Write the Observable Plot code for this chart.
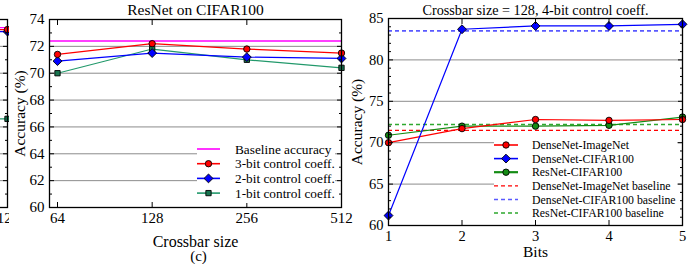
<!DOCTYPE html>
<html><head><meta charset="utf-8">
<script src="https://cdn.jsdelivr.net/npm/d3@7"></script>
<script src="https://cdn.jsdelivr.net/npm/@observablehq/plot@0.6"></script>
<style>
html,body{margin:0;padding:0;background:#fff;}
#wrap{position:relative;width:696px;height:264px;overflow:hidden;background:#fff;font-family:"Liberation Serif","Times New Roman",serif;}
#wrap svg, #wrap svg text, #wrap svg g {font-family:"Liberation Serif","Times New Roman",serif !important;}
.abs{position:absolute;top:0;}
</style></head><body><div id="wrap"></div>
<script>
// ---------- Panel (c): ResNet on CIFAR100 ----------
const crossbarSizes = [64, 128, 256, 512];
const baselineAcc = 72.4;
const acc3bit = [71.4, 72.2, 71.8, 71.5];
const acc2bit = [70.9, 71.5, 71.2, 71.1];
const acc1bit = [70.0, 71.8, 71.0, 70.4];
const yTicksC = [60, 62, 64, 66, 68, 70, 72, 74];
const yMinorC = [61, 63, 65, 67, 69, 71, 73];
const legendC = ["Baseline accuracy", "3-bit control coeff.", "2-bit control coeff.", "1-bit control coeff."];

// ---------- Panel (d): Crossbar size = 128, 4-bit control coeff. ----------
const bits = [1, 2, 3, 4, 5];
const denseImageNet = [70.0, 71.7, 72.8, 72.7, 72.8];
const denseCifar = [61.2, 83.7, 84.1, 84.1, 84.3];
const resnetCifar = [70.9, 72.0, 72.0, 72.1, 73.1];
const baseDenseImageNet = 71.5;
const baseDenseCifar = 83.5;
const baseResnetCifar = 72.2;
const yTicksD = [60, 65, 70, 75, 80, 85];
const yMinorD = [61,62,63,64,66,67,68,69,71,72,73,74,76,77,78,79,81,82,83,84];
const legendD = ["DenseNet-ImageNet", "DenseNet-CIFAR100", "ResNet-CIFAR100",
  "DenseNet-ImageNet baseline", "DenseNet-CIFAR100 baseline", "ResNet-CIFAR100 baseline"];

// ---------- Right edge of previous panel (b), cropped ----------
const prevSizes = [256, 512];
const prevBaseline = 73.4;
const prev3bit = [73.2, 73.25];
const prev2bit = [73.0, 73.1];
const prev1bit = [66.6, 66.6];

const FONT = "Liberation Serif, Times New Roman, serif";
const RED = "#ff0000", BLUE = "#0000ff", TEAL = "#22996b", TEALM = "#17744f", MAG = "#ff00ff";
const GREEN = "#148c14", GREEND = "#2ea82e", BLUED = "#5a5aff";
const GRID = "#8c8c8c";

const pts = (xs, ys) => xs.map((x, i) => ({x, y: ys[i]}));

function boxTicks(xTicks, yTicks, yMinor, xTop) {
  return [
    Plot.axisY(yTicks, {anchor: "left", tickSize: -5, text: null, label: null}),
    Plot.axisY(yTicks, {anchor: "right", tickSize: -5, text: null, label: null}),
    Plot.axisY(yMinor, {anchor: "left", tickSize: -3, text: null, label: null}),
    Plot.axisY(yMinor, {anchor: "right", tickSize: -3, text: null, label: null}),
    Plot.axisX(xTicks, {anchor: "bottom", tickSize: -5, text: null, label: null}),
    Plot.axisX(xTop || xTicks, {anchor: "top", tickSize: -5, text: null, label: null})
  ];
}

function seriesMarks(data, stroke, symbol, fill, r) {
  return [
    Plot.line(data, {x: "x", y: "y", stroke, strokeWidth: 1.2}),
    Plot.dot(data, {x: "x", y: "y", symbol, r, fill, stroke: "black", strokeWidth: 0.9})
  ];
}

function panelC(prev = false) {
  const s3 = prev ? pts(prevSizes, prev3bit) : pts(crossbarSizes, acc3bit);
  const s2 = prev ? pts(prevSizes, prev2bit) : pts(crossbarSizes, acc2bit);
  const s1 = prev ? pts(prevSizes, prev1bit) : pts(crossbarSizes, acc1bit);
  const base = prev ? prevBaseline : baselineAcc;
  const texts = prev ? [
    Plot.axisX(crossbarSizes.slice(-1), {anchor: "bottom", tickSize: 0, tickPadding: 5, label: null, tickFormat: d => String(d), dx: -7})
  ] : [
    Plot.axisY(yTicksC, {anchor: "left", tickSize: 0, tickPadding: 5, label: null}),
    Plot.axisX(crossbarSizes, {anchor: "bottom", tickSize: 0, tickPadding: 5, label: null, tickFormat: d => String(d)}),
    Plot.text(["ResNet on CIFAR100"], {text: d => d, frameAnchor: "top", lineAnchor: "middle", textAnchor: "middle", dy: -9, fontSize: 15.5}),
    Plot.text(["Accuracy (%)"], {text: d => d, frameAnchor: "left", lineAnchor: "middle", textAnchor: "middle", rotate: -90, dx: -29, fontSize: 15.5}),
    Plot.text(["Crossbar size"], {text: d => d, frameAnchor: "bottom", lineAnchor: "middle", textAnchor: "middle", dy: 34, fontSize: 16}),
    Plot.text(["(c)"], {text: d => d, frameAnchor: "bottom", lineAnchor: "middle", textAnchor: "middle", dy: 49, dx: 3, fontSize: 15})
  ];
  return Plot.plot({
    width: 348, height: 264,
    marginLeft: 49, marginRight: 7, marginTop: 19, marginBottom: 57,
    style: {fontFamily: FONT, fontSize: "15px", background: "transparent", overflow: "visible", color: "black"},
    x: {type: "log", base: 2, domain: [64, 512], range: [57, 341]},
    y: {domain: [60, 74]},
    marks: [
      Plot.ruleY(yTicksC.slice(1, -1), {stroke: GRID, strokeWidth: 1}),
      Plot.ruleY([base], {stroke: MAG, strokeWidth: 1.3}),
      ...seriesMarks(s1, TEAL, "square", TEALM, 3),
      ...seriesMarks(s2, BLUE, "diamond2", BLUE, 4),
      ...seriesMarks(s3, RED, "circle", RED, 3.2),
      ...boxTicks(crossbarSizes, yTicksC, yMinorC),
      Plot.frame({stroke: "black", strokeWidth: 1.3}),
      ...texts
    ]
  });
}

function panelD() {
  return Plot.plot({
    width: 348, height: 264,
    marginLeft: 40, marginRight: 14, marginTop: 18, marginBottom: 39,
    style: {fontFamily: FONT, fontSize: "14.5px", background: "transparent", overflow: "visible", color: "black"},
    x: {domain: [1, 5]},
    y: {domain: [60, 85]},
    marks: [
      Plot.ruleY(yTicksD.slice(1, -1), {stroke: GRID, strokeWidth: 1}),
      Plot.ruleY([baseDenseImageNet], {stroke: RED, strokeWidth: 1.3, strokeDasharray: "4,3"}),
      Plot.ruleY([baseDenseCifar], {stroke: BLUED, strokeWidth: 1.6, strokeDasharray: "4,3"}),
      Plot.ruleY([baseResnetCifar], {stroke: GREEND, strokeWidth: 1.6, strokeDasharray: "4,3"}),
      ...seriesMarks(pts(bits, resnetCifar), GREEN, "circle", GREEN, 3.2),
      ...seriesMarks(pts(bits, denseImageNet), RED, "circle", RED, 3.2),
      ...seriesMarks(pts(bits, denseCifar), BLUE, "diamond2", BLUE, 4),
      ...boxTicks(bits, yTicksD, yMinorD, bits.slice(1, -1)),
      Plot.axisY(yTicksD, {anchor: "left", tickSize: 0, tickPadding: 5, label: null}),
      Plot.axisX(bits, {anchor: "bottom", tickSize: 0, tickPadding: 5, label: null, tickFormat: d => String(d)}),
      Plot.frame({stroke: "black", strokeWidth: 1.3}),
      Plot.text(["Crossbar size = 128, 4-bit control coeff."], {text: d => d, frameAnchor: "top", lineAnchor: "middle", textAnchor: "middle", dy: -8, fontSize: 14.2}),
      Plot.text(["Accuracy (%)"], {text: d => d, frameAnchor: "left", lineAnchor: "middle", textAnchor: "middle", rotate: -90, dx: -31, fontSize: 15.5}),
      Plot.text(["Bits"], {text: d => d, frameAnchor: "bottom", lineAnchor: "middle", textAnchor: "middle", dy: 27, fontSize: 15.5})
    ]
  });
}

// Legend drawn into an existing Plot svg (layout only, no data coordinates)
function addLegend(svg, items, L) {
  const g = d3.select(svg).append("g").attr("font-family", FONT).attr("font-size", L.fontSize).attr("text-anchor", "start");
  g.append("rect").attr("x", L.x0).attr("y", L.y0).attr("width", L.x1 - L.x0).attr("height", L.y1 - L.y0).attr("fill", "white");
  items.forEach((it, i) => {
    const y = L.rowY + i * L.rowH;
    g.append("line").attr("x1", L.sx0).attr("x2", L.sx1).attr("y1", y).attr("y2", y)
      .attr("stroke", it.stroke).attr("stroke-width", it.width || 1.6).attr("stroke-dasharray", it.dash || null);
    if (it.symbol) {
      g.append("path").attr("d", d3.symbol(it.symbol, it.size)())
        .attr("transform", `translate(${(L.sx0 + L.sx1) / 2},${y})`)
        .attr("fill", it.fill).attr("stroke", "black").attr("stroke-width", 0.9);
    }
    g.append("text").attr("x", L.tx).attr("y", y).attr("dy", "0.35em").attr("fill", "black")
      .attr("text-anchor", "start").text(it.label);
  });
}

const wrap = document.getElementById("wrap");

// cropped previous panel at far left
const prevBox = document.createElement("div");
prevBox.style.cssText = "position:absolute;left:0;top:0;width:9px;height:264px;overflow:hidden;";
const pb = panelC(true);
pb.style.position = "absolute"; pb.style.left = "-334px"; pb.style.top = "0px"; pb.style.maxWidth = "none";
prevBox.appendChild(pb);
wrap.appendChild(prevBox);

const pc = panelC();
pc.classList.add("abs"); pc.style.left = "0px"; pc.style.maxWidth = "none";
addLegend(pc, [
  {label: legendC[0], stroke: MAG},
  {label: legendC[1], stroke: RED, symbol: d3.symbolCircle, size: 32, fill: RED},
  {label: legendC[2], stroke: BLUE, symbol: d3.symbolDiamond2, size: 50, fill: BLUE},
  {label: legendC[3], stroke: TEAL, symbol: d3.symbolSquare, size: 28, fill: TEALM}
], {x0: 197, x1: 335, y0: 139, y1: 203, sx0: 197, sx1: 220, tx: 235, rowY: 149, rowH: 14.7, fontSize: 13.3});
wrap.appendChild(pc);

const pd = panelD();
pd.classList.add("abs"); pd.style.left = "348px"; pd.style.maxWidth = "none";
addLegend(pd, [
  {label: legendD[0], stroke: RED, symbol: d3.symbolCircle, size: 32, fill: RED},
  {label: legendD[1], stroke: BLUE, symbol: d3.symbolDiamond2, size: 50, fill: BLUE},
  {label: legendD[2], stroke: GREEN, symbol: d3.symbolCircle, size: 32, fill: GREEN, width: 2.2},
  {label: legendD[3], stroke: RED, dash: "4,3", width: 1.3},
  {label: legendD[4], stroke: BLUED, dash: "4,3", width: 1.5},
  {label: legendD[5], stroke: GREEND, dash: "4,3", width: 1.6}
], {x0: 494 - 348, x1: 677 - 348, y0: 137, y1: 220, sx0: 494 - 348, sx1: 518 - 348, tx: 532 - 348, rowY: 145, rowH: 13.6, fontSize: 11.8});
wrap.appendChild(pd);
</script></body></html>
